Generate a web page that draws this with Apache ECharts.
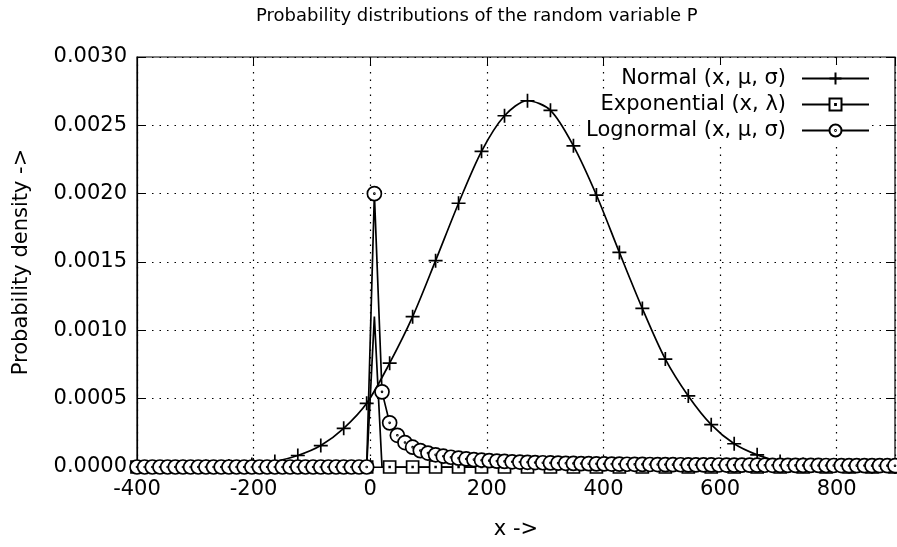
<!DOCTYPE html>
<html>
<head>
<meta charset="utf-8">
<title>Probability distributions</title>
<script src="https://cdn.jsdelivr.net/npm/echarts@6/dist/echarts.min.js"></script>
<style>
  html, body { margin: 0; padding: 0; background: #fff; }
  #chart { width: 897px; height: 547px; }
</style>
</head>
<body>
<div id="chart"></div>
<script>
// sample positions on x (100 samples from -400 to 900)
var xSamples = [
    -400, -386.9, -373.7, -360.6, -347.5, -334.3, -321.2, -308.1, -294.9, -281.8,
    -268.7, -255.6, -242.4, -229.3, -216.2, -203.0, -189.9, -176.8, -163.6, -150.5,
    -137.4, -124.2, -111.1, -98.0, -84.8, -71.7, -58.6, -45.5, -32.3, -19.2,
    -6.1, 7.1, 20.2, 33.3, 46.5, 59.6, 72.7, 85.9, 99.0, 112.1,
    125.3, 138.4, 151.5, 164.6, 177.8, 190.9, 204.0, 217.2, 230.3, 243.4,
    256.6, 269.7, 282.8, 296.0, 309.1, 322.2, 335.4, 348.5, 361.6, 374.7,
    387.9, 401.0, 414.1, 427.3, 440.4, 453.5, 466.7, 479.8, 492.9, 506.1,
    519.2, 532.3, 545.5, 558.6, 571.7, 584.8, 598.0, 611.1, 624.2, 637.4,
    650.5, 663.6, 676.8, 689.9, 703.0, 716.2, 729.3, 742.4, 755.6, 768.7,
    781.8, 794.9, 808.1, 821.2, 834.3, 847.5, 860.6, 873.7, 886.9, 900
];

// Normal: points where the "+" markers sit
var normalX = [
    -400, -360.6, -321.2, -281.8, -242.4, -203.0, -163.6, -124.2, -84.8, -45.5,
    -6.1, 33.3, 72.7, 112.1, 151.5, 190.9, 230.3, 269.7, 309.1, 348.5,
    387.9, 427.3, 466.7, 506.1, 545.5, 584.8, 624.2, 663.6, 703.0, 742.4,
    781.8, 821.2, 860.6, 900
];
var normalY = [
    0, 0, 0.000001, 0.000003, 0.000007, 0.000018, 0.00004, 0.000084, 0.000157, 0.000283,
    0.000466, 0.00076, 0.00110, 0.00151, 0.00193, 0.00231, 0.00257, 0.00268, 0.00261, 0.00235,
    0.00199, 0.00157, 0.00116, 0.00079, 0.00052, 0.00031, 0.00017, 0.000089, 0.00004, 0.000018,
    0.000007, 0.000003, 0.000001, 0
];

// Exponential: one spike just right of zero
var expY = [
    0, 0, 0, 0, 0, 0, 0, 0, 0, 0,
    0, 0, 0, 0, 0, 0, 0, 0, 0, 0,
    0, 0, 0, 0, 0, 0, 0, 0, 0, 0,
    0, 0.0011, 0, 0, 0, 0, 0, 0, 0, 0,
    0, 0, 0, 0, 0, 0, 0, 0, 0, 0,
    0, 0, 0, 0, 0, 0, 0, 0, 0, 0,
    0, 0, 0, 0, 0, 0, 0, 0, 0, 0,
    0, 0, 0, 0, 0, 0, 0, 0, 0, 0,
    0, 0, 0, 0, 0, 0, 0, 0, 0, 0,
    0, 0, 0, 0, 0, 0, 0, 0, 0, 0
];

// Lognormal
var logY = [
    0, 0, 0, 0, 0, 0, 0, 0, 0, 0,
    0, 0, 0, 0, 0, 0, 0, 0, 0, 0,
    0, 0, 0, 0, 0, 0, 0, 0, 0, 0,
    0, 0.00200, 0.00055, 0.000323, 0.000232, 0.000179, 0.000145, 0.000120, 0.000102, 0.0000892,
    0.0000790, 0.0000712, 0.0000647, 0.0000589, 0.0000540, 0.0000498, 0.0000466, 0.0000433, 0.0000408, 0.0000382,
    0.0000362, 0.0000345, 0.0000325, 0.0000311, 0.0000298, 0.0000282, 0.0000271, 0.0000261, 0.0000249, 0.0000240,
    0.0000232, 0.0000224, 0.0000215, 0.0000208, 0.0000202, 0.0000196, 0.0000189, 0.0000183, 0.0000179, 0.0000174,
    0.0000169, 0.0000163, 0.0000159, 0.0000156, 0.0000152, 0.0000149, 0.0000145, 0.0000141, 0.0000138, 0.0000135,
    0.0000132, 0.0000130, 0.0000127, 0.0000125, 0.0000122, 0.0000120, 0.0000118, 0.0000116, 0.0000114, 0.0000112,
    0.0000110, 0.0000108, 0.0000106, 0.0000104, 0.0000103, 0.0000101, 0.0000099, 0.0000098, 0.0000096, 0.0000095
];

var seriesNames = ['Normal (x, μ, σ)', 'Exponential (x, λ)', 'Lognormal (x, μ, σ)'];

var FONT = 'DejaVu Sans';

// marker shapes (gnuplot style)
var plusSym = 'path://M0,6L12,6M6,0L6,12';
var boxSym = 'path://M0,0L12,0L12,12L0,12ZM5.6,5.6L6.4,5.6L6.4,6.4L5.6,6.4Z';
var circSym = 'path://M6,0A6,6,0,1,1,6,12A6,6,0,1,1,6,0ZM6,5.6A0.4,0.4,0,1,1,6,6.4A0.4,0.4,0,1,1,6,5.6Z';

var chart = echarts.init(document.getElementById('chart'));

var normalData = normalX.map(function(x, i) { return [x, normalY[i]]; });
// squares only on every third sample
var expData = xSamples.map(function(x, i) {
    var item = { value: [x, expY[i]] };
    if (i % 3 !== 0) item.symbol = 'none';
    return item;
});
var logData = xSamples.map(function(x, i) { return [x, logY[i]]; });

var gridDots = { show: true, lineStyle: { color: '#000', width: 1.2, type: [1.5, 6] } };

// one legend per entry so the icons line up on the right (opaque key box)
function legendFor(name, top) {
    return {
        data: [name],
        right: 27,
        top: top,
        padding: [3, 0, 3, 6],
        backgroundColor: '#fff',
        align: 'right',
        itemWidth: 67,
        itemHeight: 15,
        selectedMode: false,
        textStyle: { fontFamily: FONT, fontSize: 21, color: '#000', padding: [0, 11, 0, 0] }
    };
}

var option = {
    animation: false,
    backgroundColor: '#fff',
    title: {
        text: 'Probability distributions of the random variable P',
        left: 256,
        top: 7,
        padding: 0,
        textStyle: { fontFamily: FONT, fontSize: 18, fontWeight: 'normal', color: '#000' }
    },
    legend: [
        legendFor(seriesNames[0], 65),
        legendFor(seriesNames[1], 91),
        legendFor(seriesNames[2], 117)
    ],
    grid: {
        left: 137, right: 2, top: 57, bottom: 80,
        show: true, borderColor: '#000', borderWidth: 1.2, backgroundColor: 'transparent'
    },
    xAxis: [{
        type: 'value',
        min: -400, max: 900, interval: 200,
        name: 'x ->',
        nameLocation: 'middle',
        nameGap: 52,
        nameTextStyle: { fontFamily: FONT, fontSize: 21, color: '#000' },
        axisLine: { show: true, onZero: false, lineStyle: { color: '#000', width: 1.2 } },
        axisTick: { show: true, inside: true, length: 9, lineStyle: { color: '#000' } },
        axisLabel: { fontFamily: FONT, fontSize: 21, color: '#000', margin: 12, showMaxLabel: false },
        splitLine: gridDots
    }, {
        type: 'value',
        position: 'top',
        min: -400, max: 900, interval: 200,
        axisLine: { show: false, onZero: false },
        axisTick: { show: true, inside: true, length: 9, lineStyle: { color: '#000' } },
        axisLabel: { show: false },
        splitLine: { show: false }
    }],
    yAxis: [{
        type: 'value',
        min: 0, max: 0.003, interval: 0.0005,
        name: 'Probability density ->',
        nameLocation: 'middle',
        nameGap: 105,
        nameTextStyle: { fontFamily: FONT, fontSize: 21, color: '#000' },
        axisLine: { show: true, onZero: false, lineStyle: { color: '#000', width: 1.2 } },
        axisTick: { show: true, inside: true, length: 9, lineStyle: { color: '#000' } },
        axisLabel: {
            fontFamily: FONT, fontSize: 21, color: '#000', margin: 10,
            formatter: function(v) { return v.toFixed(4); }
        },
        splitLine: gridDots
    }, {
        type: 'value',
        position: 'right',
        min: 0, max: 0.003, interval: 0.0005,
        axisLine: { show: false, onZero: false },
        axisTick: { show: true, inside: true, length: 9, lineStyle: { color: '#000' } },
        axisLabel: { show: false },
        splitLine: { show: false }
    }],
    series: [
        {
            name: seriesNames[0],
            type: 'line',
            data: normalData,
            smooth: 0.3,
            symbol: plusSym,
            symbolSize: 14,
            lineStyle: { color: '#000', width: 1.7 },
            itemStyle: { color: '#000', borderColor: '#000', borderWidth: 1.7 }
        },
        {
            name: seriesNames[1],
            type: 'line',
            data: expData,
            symbol: boxSym,
            symbolSize: 12,
            lineStyle: { color: '#000', width: 1.7 },
            itemStyle: { color: '#fff', borderColor: '#000', borderWidth: 1.7 }
        },
        {
            name: seriesNames[2],
            type: 'line',
            data: logData,
            symbol: circSym,
            symbolSize: 14,
            lineStyle: { color: '#000', width: 1.7 },
            itemStyle: { color: '#fff', borderColor: '#000', borderWidth: 1.7 }
        }
    ]
};

chart.setOption(option);
</script>
</body>
</html>
